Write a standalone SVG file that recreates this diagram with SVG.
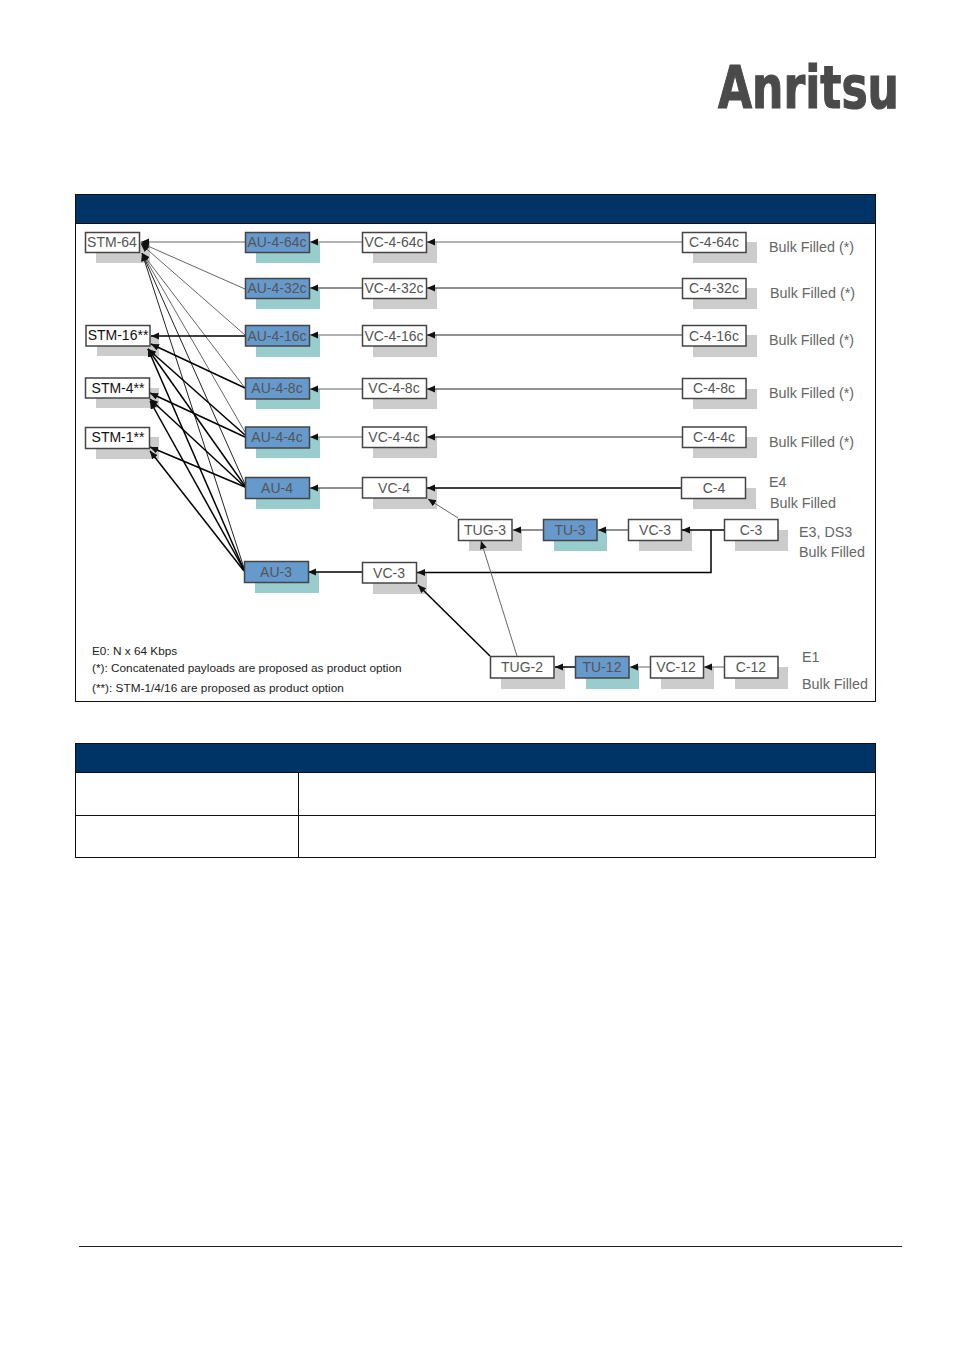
<svg xmlns="http://www.w3.org/2000/svg" width="954" height="1350" viewBox="0 0 954 1350">
<style>
text{font-family:"Liberation Sans",Arial,sans-serif}
.b{fill:#fff;stroke:#444;stroke-width:1.5}
.u{fill:#6699cc;stroke:#444;stroke-width:1.5}
.sg{fill:#cccccc}
.st{fill:#99cccc}
.t{font-size:14px;text-anchor:middle;fill:#555}
.k{fill:#111}
.l{font-size:14.3px;fill:#666}
.n{font-size:11.8px;fill:#222}
.c{fill:none;stroke:#222;stroke-width:1;marker-end:url(#a)}
.g{stroke:#666}
.h{stroke:#000;stroke-width:1.5}
</style>
<defs>
<marker id="a" markerUnits="userSpaceOnUse" markerWidth="9" markerHeight="8" refX="8" refY="3.5" orient="auto"><path d="M0 0L8 3.5L0 7Z" fill="#111"/></marker>
</defs>
<rect width="954" height="1350" fill="#fff"/>
<text id="logo" x="718" y="108" font-size="58" font-weight="700" fill="#4a4a4a" stroke="#4a4a4a" stroke-width="1.2" textLength="181" lengthAdjust="spacingAndGlyphs" style="font-family:'DejaVu Sans',sans-serif">Anritsu</text>
<g id="frame">
<rect x="75.500" y="194.500" width="800" height="507" fill="#fff" stroke="#111"/>
<rect x="75.500" y="194.500" width="800" height="29" fill="#003366" stroke="#111"/>
</g>
<g id="table">
<rect x="75.500" y="743.500" width="800" height="114" fill="#fff" stroke="#111"/>
<rect x="75.500" y="743.500" width="800" height="29" fill="#003366" stroke="#111"/>
<path d="M75 815.500H875M298.500 772V857" stroke="#111" fill="none"/>
</g>
<path id="footer-rule" d="M79 1246.500H902" stroke="#222" fill="none"/>

<g id="shadows">
<rect class="sg" x="96" y="242" width="54" height="21"/>
<rect class="sg" x="97" y="336" width="62" height="20"/>
<rect class="sg" x="96" y="388" width="63" height="20"/>
<rect class="sg" x="96" y="437" width="63" height="22"/>
<rect class="st" x="256" y="243" width="64" height="20"/>
<rect class="st" x="256" y="289" width="64" height="20"/>
<rect class="st" x="256" y="336" width="64" height="21"/>
<rect class="st" x="256" y="389" width="64" height="20"/>
<rect class="st" x="256" y="437" width="64" height="21"/>
<rect class="st" x="256" y="488" width="64" height="21"/>
<rect class="st" x="255" y="572" width="64" height="21"/>
<rect class="sg" x="373" y="242" width="64" height="21"/>
<rect class="sg" x="373" y="288" width="64" height="21"/>
<rect class="sg" x="373" y="335" width="64" height="22"/>
<rect class="sg" x="373" y="389" width="64" height="20"/>
<rect class="sg" x="373" y="437" width="64" height="21"/>
<rect class="sg" x="373" y="488" width="64" height="21"/>
<rect class="sg" x="373" y="573" width="54" height="21"/>
<rect class="sg" x="693" y="242" width="64" height="21"/>
<rect class="sg" x="693" y="288" width="64" height="21"/>
<rect class="sg" x="693" y="335" width="64" height="22"/>
<rect class="sg" x="693" y="389" width="64" height="20"/>
<rect class="sg" x="693" y="437" width="64" height="21"/>
<rect class="sg" x="693" y="488" width="63" height="21"/>
<rect class="sg" x="469" y="530" width="53" height="21"/>
<rect class="st" x="554" y="530" width="53" height="21"/>
<rect class="sg" x="639" y="530" width="53" height="21"/>
<rect class="sg" x="735" y="530" width="53" height="21"/>
<rect class="sg" x="501" y="667" width="64" height="22"/>
<rect class="st" x="586" y="667" width="53" height="22"/>
<rect class="sg" x="661" y="667" width="53" height="22"/>
<rect class="sg" x="735" y="667" width="53" height="22"/>
</g>

<g id="connectors">
<path class="c g" stroke-width="1.500" d="M245 242H141"/>
<path class="c g" d="M245 289L141 243"/>
<path class="c g" d="M245 335L141 244"/>
<path class="c g" d="M245 388L142 253"/>
<path class="c g" d="M245 432L142 253"/>
<path class="c" d="M245 484L142 253"/>
<path class="c" d="M244 568L142 253"/>
<path class="c h" d="M245 336H151"/>
<path class="c h" d="M245 388L151 344"/>
<path class="c h" d="M245 435L148 349"/>
<path class="c h" d="M245 486L148 349"/>
<path class="c h" d="M244 570L148 349"/>
<path class="c h" d="M245 437L150 393"/>
<path class="c h" d="M245 487L150 399"/>
<path class="c h" d="M244 570L150 401"/>
<path class="c h" d="M245 487L150 447"/>
<path class="c h" d="M244 571L150 451"/>
<path class="c g" d="M362 242H310"/>
<path class="c" d="M362 288H310"/>
<path class="c g" d="M362 335H310"/>
<path class="c g" d="M362 389H310"/>
<path class="c g" d="M362 437H310"/>
<path class="c" d="M362 488H310"/>
<path class="c h" d="M362 572H308"/>
<path class="c g" d="M682 242H427"/>
<path class="c" d="M682 288H427"/>
<path class="c" d="M682 335H427"/>
<path class="c" d="M682 389H427"/>
<path class="c" d="M682 437H427"/>
<path class="c h" d="M681 488H427"/>
<path class="c g" d="M458 518L428 499"/>
<path class="c" d="M543 530H513"/>
<path class="c" d="M628 530H598"/>
<path class="c h" d="M724 530H682"/>
<path class="c h" stroke-width="2" d="M711 530V572.500H417"/>
<path class="c h" d="M490 656L418 585"/>
<path class="c g" d="M517 656L481 541"/>
<path class="c h" stroke-width="2" d="M575 667H555"/>
<path class="c g" d="M650 667H630"/>
<path class="c g" d="M724 667H704"/>
</g>

<g id="stm-64"><rect class="b" x="85.500" y="232.500" width="54" height="20"/><text class="t" x="112" y="247">STM-64</text></g>
<g id="stm-16"><rect class="b" x="86" y="325.500" width="64" height="20.500"/><text class="t k" x="118" y="340">STM-16**</text></g>
<g id="stm-4"><rect class="b" x="85.500" y="378" width="64" height="20"/><text class="t k" x="118" y="393">STM-4**</text></g>
<g id="stm-1"><rect class="b" x="85.500" y="427.500" width="64" height="21"/><text class="t k" x="118" y="442">STM-1**</text></g>

<g id="au-4-64c"><rect class="u" x="245.500" y="232.500" width="64" height="20"/><text class="t" x="277" y="247">AU-4-64c</text></g>
<g id="au-4-32c"><rect class="u" x="245.500" y="278.500" width="64" height="20"/><text class="t" x="277" y="293">AU-4-32c</text></g>
<g id="au-4-16c"><rect class="u" x="245.500" y="325.500" width="64" height="20.500"/><text class="t" x="277" y="341">AU-4-16c</text></g>
<g id="au-4-8c"><rect class="u" x="245.500" y="378" width="64" height="21"/><text class="t" x="277" y="393">AU-4-8c</text></g>
<g id="au-4-4c"><rect class="u" x="245.500" y="427" width="64" height="21"/><text class="t" x="277" y="442">AU-4-4c</text></g>
<g id="au-4"><rect class="u" x="245.500" y="477.500" width="64" height="21"/><text class="t" x="277" y="493">AU-4</text></g>
<g id="au-3"><rect class="u" x="244.500" y="561.500" width="64" height="21"/><text class="t" x="276" y="577">AU-3</text></g>

<g id="vc-4-64c"><rect class="b" x="362.500" y="232.500" width="64" height="20"/><text class="t" x="394" y="247">VC-4-64c</text></g>
<g id="vc-4-32c"><rect class="b" x="362.500" y="278.500" width="64" height="20"/><text class="t" x="394" y="293">VC-4-32c</text></g>
<g id="vc-4-16c"><rect class="b" x="362.500" y="325.500" width="64" height="20.500"/><text class="t" x="394" y="341">VC-4-16c</text></g>
<g id="vc-4-8c"><rect class="b" x="362.500" y="378.500" width="64" height="20"/><text class="t" x="394" y="393">VC-4-8c</text></g>
<g id="vc-4-4c"><rect class="b" x="362.500" y="427" width="64" height="20.500"/><text class="t" x="394" y="442">VC-4-4c</text></g>
<g id="vc-4"><rect class="b" x="362.500" y="477.500" width="64" height="20.500"/><text class="t" x="394" y="493">VC-4</text></g>
<g id="vc-3b"><rect class="b" x="362.500" y="562.500" width="54" height="20.500"/><text class="t" x="389" y="578">VC-3</text></g>

<g id="c-4-64c"><rect class="b" x="682.500" y="232.500" width="63.500" height="20"/><text class="t" x="714" y="247">C-4-64c</text></g>
<g id="c-4-32c"><rect class="b" x="682.500" y="278.500" width="63.500" height="20"/><text class="t" x="714" y="293">C-4-32c</text></g>
<g id="c-4-16c"><rect class="b" x="682.500" y="325.500" width="63.500" height="20.500"/><text class="t" x="714" y="341">C-4-16c</text></g>
<g id="c-4-8c"><rect class="b" x="682.500" y="378.500" width="63.500" height="20"/><text class="t" x="714" y="393">C-4-8c</text></g>
<g id="c-4-4c"><rect class="b" x="682.500" y="427" width="63.500" height="20.500"/><text class="t" x="714" y="442">C-4-4c</text></g>
<g id="c-4"><rect class="b" x="681.500" y="477.500" width="64" height="21"/><text class="t" x="714" y="493">C-4</text></g>

<g id="tug-3"><rect class="b" x="458.500" y="519.500" width="53.500" height="21"/><text class="t" x="485" y="535">TUG-3</text></g>
<g id="tu-3"><rect class="u" x="543.500" y="519.500" width="53.500" height="21"/><text class="t" x="570" y="535">TU-3</text></g>
<g id="vc-3"><rect class="b" x="628.500" y="519.500" width="53" height="21"/><text class="t" x="655" y="535">VC-3</text></g>
<g id="c-3"><rect class="b" x="724.500" y="519.500" width="53.500" height="21"/><text class="t" x="751" y="535">C-3</text></g>
<g id="tug-2"><rect class="b" x="490.500" y="656.500" width="63.500" height="21.500"/><text class="t" x="522" y="672">TUG-2</text></g>
<g id="tu-12"><rect class="u" x="575.500" y="656.500" width="53.500" height="21.500"/><text class="t" x="602" y="672">TU-12</text></g>
<g id="vc-12"><rect class="b" x="650.500" y="656.500" width="53" height="21.500"/><text class="t" x="676" y="672">VC-12</text></g>
<g id="c-12"><rect class="b" x="724.500" y="656.500" width="53.500" height="21.500"/><text class="t" x="751" y="672">C-12</text></g>

<g id="labels">
<text class="l" x="769" y="252">Bulk Filled (*)</text>
<text class="l" x="770" y="298">Bulk Filled (*)</text>
<text class="l" x="769" y="345">Bulk Filled (*)</text>
<text class="l" x="769" y="398">Bulk Filled (*)</text>
<text class="l" x="769" y="447">Bulk Filled (*)</text>
<text class="l" x="769" y="487">E4</text>
<text class="l" x="770" y="508">Bulk Filled</text>
<text class="l" x="799" y="537">E3, DS3</text>
<text class="l" x="799" y="557">Bulk Filled</text>
<text class="l" x="802" y="662">E1</text>
<text class="l" x="802" y="689">Bulk Filled</text>
<text class="n" x="92" y="655">E0: N x 64 Kbps</text>
<text class="n" x="92" y="672">(*): Concatenated payloads are proposed as product option</text>
<text class="n" x="92" y="692">(**): STM-1/4/16 are proposed as product option</text>
</g>
</svg>
